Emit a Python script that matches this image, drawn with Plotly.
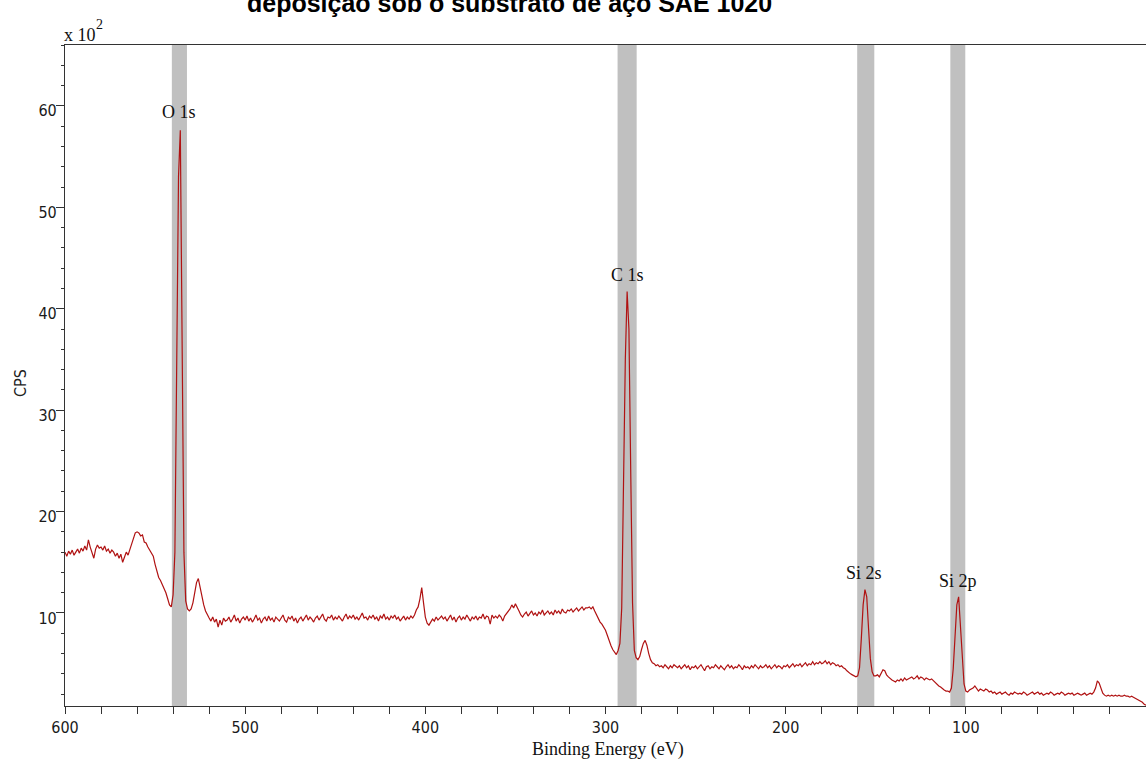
import plotly.graph_objects as go

# Binding energy grid (eV), 600 -> 0 in 1 eV steps
energy = list(range(600, -1, -1))

# CPS (x 10^2), one value per eV from 600 down to 0
cps = [
    # 600-591
    16.0, 15.6, 16.1, 15.8, 16.2, 15.7, 16.0, 16.3, 15.9, 16.4,
    # 590-581
    16.1, 16.6, 16.2, 17.2, 16.5, 16.0, 15.4, 16.3, 16.7, 16.4,
    # 580-571
    16.5, 16.2, 16.6, 16.1, 16.3, 15.9, 16.2, 16.0, 15.6, 15.9,
    # 570-561
    15.4, 15.8, 15.0, 15.5, 16.0, 15.7, 16.3, 16.9, 17.4, 17.9,
    # 560-551
    18.0, 17.9, 17.6, 17.7, 17.0, 16.9, 16.5, 16.2, 16.0, 15.6,
    # 550-541
    14.8, 14.2, 13.5, 13.2, 12.8, 12.4, 12.0, 11.4, 10.8, 10.6,
    # 540-531 (O 1s)
    11.8, 16.0, 36.0, 53.0, 57.6, 40.0, 16.0, 11.2, 10.4, 10.2,
    # 530-521
    10.4, 11.0, 12.2, 13.0, 13.4, 12.4, 11.6, 10.8, 10.2, 9.8,
    # 520-511
    9.5, 9.2, 9.6, 9.1, 9.4, 8.6, 9.3, 8.8, 9.5, 9.2,
    # 510-501
    9.3, 9.6, 9.1, 9.4, 9.8, 9.2, 9.5, 9.0, 9.4, 9.6,
    # 500-491
    9.3, 9.7, 9.2, 9.5, 9.1, 9.4, 9.8, 9.3, 9.5, 9.0,
    # 490-481
    9.4, 9.6, 9.2, 9.7, 9.3, 9.5, 9.1, 9.6, 9.4, 9.2,
    # 480-471
    9.5, 9.8, 9.3, 9.1, 9.6, 9.4, 9.7, 9.2, 9.5, 9.0,
    # 470-461
    9.4, 9.6, 9.2, 9.5, 9.8, 9.3, 9.6, 9.4, 9.1, 9.5,
    # 460-451
    9.7, 9.3, 9.6, 9.9, 9.4, 9.2, 9.6, 9.5, 9.8, 9.3,
    # 450-441
    9.6, 9.4, 9.7, 9.5, 9.2, 9.6, 9.9, 9.4, 9.7, 9.5,
    # 440-431
    9.8, 9.4, 9.6, 9.3, 9.7, 10.0, 9.5, 9.6, 9.3, 9.7,
    # 430-421
    9.5, 9.8, 9.4, 9.6, 9.2, 9.7, 9.5, 9.9, 9.4, 9.6,
    # 420-411
    9.3, 9.7, 9.5, 9.8, 9.4, 9.6, 9.2, 9.5, 9.7, 9.3,
    # 410-401
    9.6, 9.4, 9.7, 9.5, 9.8, 10.3, 10.6, 11.4, 12.5, 11.0,
    # 400-391
    9.6, 9.0, 8.8, 9.1, 9.4, 9.2, 9.6, 9.3, 9.5, 9.7,
    # 390-381
    9.4, 9.6, 9.2, 9.5, 9.8, 9.3, 9.6, 9.1, 9.5, 9.7,
    # 380-371
    9.3, 9.6, 9.4, 9.8, 9.5, 9.2, 9.6, 9.4, 9.7, 9.3,
    # 370-361
    9.6, 9.5, 9.9, 9.4, 9.7, 9.6, 8.9, 9.8, 9.5, 9.7,
    # 360-351
    9.5, 9.8, 9.6, 9.2, 9.7, 9.9, 10.1, 10.4, 10.8, 10.5,
    # 350-341
    10.9, 10.6, 10.2, 9.8, 9.6, 9.9, 10.1, 9.7, 9.9, 10.2,
    # 340-331
    9.8, 10.0, 9.7, 10.1, 9.9, 10.3, 9.8, 10.0, 10.2, 9.9,
    # 330-321
    10.1, 9.8, 10.3, 10.0, 10.2, 9.9, 10.4, 10.1, 10.0, 10.3,
    # 320-311
    10.2, 10.4, 10.1, 10.3, 10.5, 10.2, 10.4, 10.6, 10.3, 10.5,
    # 310-301
    10.5, 10.6, 10.4, 10.6, 10.2, 9.8, 9.5, 9.1, 8.9, 8.6,
    # 300-291
    8.3, 7.8, 7.2, 6.8, 6.4, 6.1, 5.9, 6.3, 7.0, 10.5,
    # 290-281 (C 1s)
    22.0, 35.0, 41.7, 38.0, 24.0, 11.0, 6.3, 5.6, 5.4, 5.7,
    # 280-271
    6.4, 7.0, 7.3, 6.8, 6.0, 5.4, 5.1, 5.0, 4.8, 4.9,
    # 270-261
    4.7, 4.8, 4.6, 4.9, 4.7, 4.5, 4.8, 4.6, 4.9, 4.7,
    # 260-251
    4.6, 4.8, 4.5, 4.7, 4.9, 4.6, 4.8, 4.4, 4.7, 4.6,
    # 250-241
    4.8, 4.5, 4.7, 4.9, 4.6, 4.3, 4.7, 4.8, 4.5, 4.7,
    # 240-231
    4.6, 4.9, 4.7, 4.5, 4.8, 4.6, 4.4, 4.7, 4.9, 4.6,
    # 230-221
    4.8, 4.5, 4.7, 4.6, 4.9, 4.7, 4.4, 4.8, 4.6, 4.7,
    # 220-211
    4.5, 4.8, 4.6, 4.9, 4.7, 4.5, 4.8, 4.6, 4.7, 4.9,
    # 210-201
    4.6, 4.8, 4.5, 4.7, 4.9, 4.6, 4.8, 4.7, 4.5, 4.8,
    # 200-191
    4.7, 4.9, 4.6, 4.8, 5.0, 4.7, 4.9, 4.8, 5.0, 4.7,
    # 190-181
    4.9, 5.1, 4.8, 5.0, 4.9, 5.2, 4.9, 5.1, 5.0, 5.2,
    # 180-171
    5.0, 5.1, 5.3, 5.0, 5.2, 4.9, 5.1, 5.0, 4.8, 4.9,
    # 170-161
    4.7, 4.8, 4.6, 4.5, 4.3, 4.1, 4.0, 3.9, 3.8, 3.7,
    # 160-151 (Si 2s)
    3.8, 4.6, 7.5, 10.8, 12.3, 11.6, 8.5, 5.5, 4.2, 3.8,
    # 150-141
    3.8, 3.9, 3.7, 4.1, 4.4, 4.3, 3.9, 3.7, 3.5, 3.4,
    # 140-131
    3.3, 3.2, 3.4, 3.3, 3.5, 3.3, 3.6, 3.4, 3.5, 3.6,
    # 130-121
    3.7, 3.5, 3.6, 3.8, 3.5, 3.7, 3.6, 3.4, 3.6, 3.5,
    # 120-111
    3.4, 3.5, 3.3, 3.2, 3.0, 2.8, 2.7, 2.5, 2.4, 2.3,
    # 110-101 (Si 2p)
    2.3, 2.2, 2.6, 4.5, 8.0, 10.8, 11.6, 9.0, 5.5, 3.0,
    # 100-91
    2.3, 2.2, 2.4, 2.5, 2.6, 2.8, 2.6, 2.3, 2.5, 2.4,
    # 90-81
    2.3, 2.5, 2.4, 2.2, 2.3, 2.1, 2.2, 2.0, 2.1, 2.2,
    # 80-71
    2.0, 2.1, 2.2, 2.0, 1.9, 2.1, 2.0, 2.2, 2.1, 2.0,
    # 70-61
    2.1, 2.0, 2.2, 2.1, 1.9, 2.0, 2.1, 2.2, 2.0, 2.1,
    # 60-51
    2.2, 2.0, 2.1, 1.9, 2.0, 2.1, 2.0, 2.2, 2.1, 1.9,
    # 50-41
    2.0, 2.1, 2.0, 2.2, 2.1, 1.9, 2.0, 2.1, 2.0, 2.1,
    # 40-31
    1.9, 2.0, 2.1, 2.0, 1.9, 2.0, 2.1, 1.9, 2.0, 2.1,
    # 30-21
    2.0, 2.2, 2.6, 3.3, 3.1, 2.6, 2.1, 1.9, 1.8, 1.9,
    # 20-11
    1.8, 1.9, 1.8, 1.9, 1.8, 1.9, 1.8, 1.8, 1.9, 1.8,
    # 10-1
    1.8, 1.7, 1.8, 1.7, 1.6, 1.5, 1.4, 1.3, 1.2, 1.0,
    # 0
    0.9,
]

# Peak regions (grey bands) and labels
peak_names = ["O 1s", "C 1s", "Si 2s", "Si 2p"]
band_hi = [540.7, 293.3, 160.3, 108.6]
band_lo = [532.3, 282.7, 150.8, 100.3]
label_x = [536.8, 287.6, 156.3, 104.1]
label_y = [59.4, 43.3, 13.9, 13.2]

title_line = "deposição sob o substrato de aço SAE 1020"
x_title = "Binding Energy (eV)"
y_title = "CPS"
y_scale_text = "x 10"
y_scale_exp = "2"

fig = go.Figure()

for lo, hi in zip(band_lo, band_hi):
    fig.add_vrect(x0=lo, x1=hi, fillcolor="#c0c0c0", opacity=1,
                  line_width=0, layer="below")

fig.add_trace(go.Scatter(
    x=energy, y=cps, mode="lines",
    line=dict(color="#b01212", width=1.2),
    showlegend=False, hoverinfo="skip",
))

serif = "Liberation Serif, Times New Roman, serif"
sans = "DejaVu Sans Condensed, Liberation Sans, Arial, sans-serif"

for name, lx, ly in zip(peak_names, label_x, label_y):
    fig.add_annotation(x=lx, y=ly, text=name, showarrow=False,
                       font=dict(family=serif, size=18, color="#111"),
                       xanchor="center", yanchor="middle")

# title (second line, partly cut at top as in the source)
fig.add_annotation(xref="paper", yref="paper", x=(509 - 65) / 1081, y=1,
                   yshift=42, text="<b>" + title_line + "</b>",
                   showarrow=False,
                   font=dict(family="Liberation Sans, Arial, sans-serif",
                             size=25, color="#000"),
                   xanchor="center", yanchor="middle")

# axis titles
fig.add_annotation(xref="paper", yref="paper", x=(608 - 65) / 1081, y=0,
                   yshift=-43, text=x_title, showarrow=False,
                   font=dict(family=serif, size=18, color="#111"),
                   xanchor="center", yanchor="middle")
fig.add_annotation(xref="paper", yref="paper", x=0, xshift=-45,
                   y=(706 - 383) / 661, text=y_title, showarrow=False,
                   textangle=-90,
                   font=dict(family=sans, size=16, color="#222"),
                   xanchor="center", yanchor="middle")
fig.add_annotation(xref="paper", yref="paper", x=0, xshift=-3, y=1,
                   yshift=10, text=y_scale_text, showarrow=False,
                   font=dict(family=serif, size=18, color="#111"),
                   xanchor="left", yanchor="middle")
fig.add_annotation(xref="paper", yref="paper", x=0, xshift=29, y=1,
                   yshift=21, text=y_scale_exp, showarrow=False,
                   font=dict(family=serif, size=14, color="#111"),
                   xanchor="left", yanchor="middle")

fig.update_layout(
    width=1146, height=760,
    margin=dict(l=65, r=0, t=45, b=54),
    paper_bgcolor="white", plot_bgcolor="white",
    xaxis=dict(
        range=[600, 0], showgrid=False, zeroline=False,
        showline=True, linecolor="#333", linewidth=1.2, mirror=True,
        ticks="outside", ticklen=7, tickcolor="#333", tickwidth=1.2,
        dtick=100, tick0=0,
        tickfont=dict(family=sans, size=16, color="#1a1a1a"),
        minor=dict(dtick=20, tick0=0, ticks="outside", ticklen=7,
                   tickcolor="#333", tickwidth=1.2),
    ),
    yaxis=dict(
        range=[0.83, 66.0], showgrid=False, zeroline=False,
        showline=True, linecolor="#333", linewidth=1.2,
        ticks="outside", ticklen=8, tickcolor="#333", tickwidth=1.2,
        tickvals=[10, 20, 30, 40, 50, 60],
        ticklabelshift=5, ticklabelstandoff=-4,
        tickfont=dict(family=sans, size=16, color="#1a1a1a"),
        minor=dict(dtick=2, tick0=0, ticks="outside", ticklen=3,
                   tickcolor="#333", tickwidth=1.2),
    ),
)

fig.write_html("out.html")
